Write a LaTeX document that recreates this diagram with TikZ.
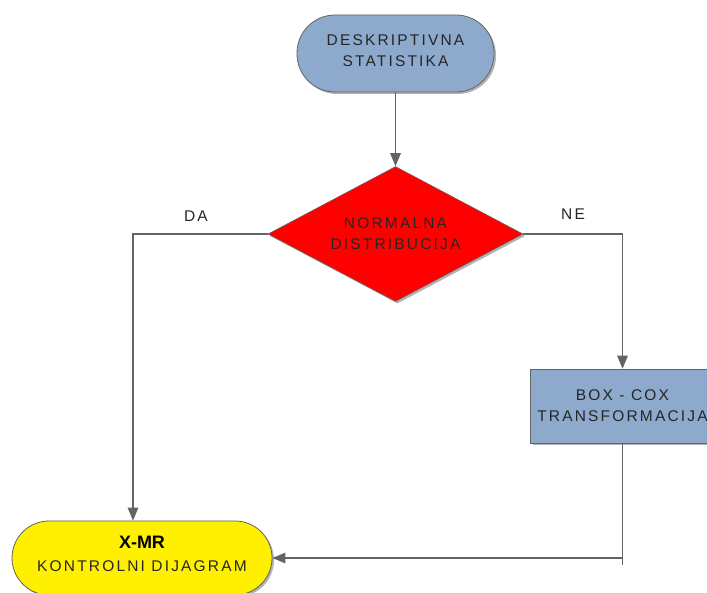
\documentclass[tikz,border=0pt]{standalone}
\usepackage{fontspec}
\setmainfont{Liberation Sans}
\newfontfamily\lsfont[LetterSpace=14]{Liberation Sans}
\newfontfamily\plainfont{Liberation Sans}
\usetikzlibrary{shapes.geometric,arrows.meta,shadows}
\definecolor{nodeblue}{RGB}{141,169,204}
\definecolor{nodeyellow}{RGB}{255,240,0}
\definecolor{nodered}{RGB}{255,0,0}
\definecolor{linegray}{RGB}{100,100,100}
\definecolor{txtgray}{RGB}{38,38,38}
\begin{document}
\begin{tikzpicture}[x=1pt,y=1pt,
  lbl/.style={font=\lsfont\fontsize{15.5}{21}\selectfont, text=txtgray, align=center},
  shad/.style={drop shadow={shadow xshift=2pt,shadow yshift=-2pt,opacity=0.3,fill=black}},
  stadium/.style={lbl, shad, rectangle, draw=linegray, line width=0.8pt, inner sep=0pt},
  boxnode/.style={lbl, shad, rectangle, draw=linegray, line width=0.6pt, inner sep=0pt,
    fill=nodeblue, minimum width=184pt, minimum height=74pt},
  decision/.style={lbl, shad, diamond, aspect=2, draw=linegray, line width=0.5pt, inner sep=0pt,
    fill=nodered, minimum width=255pt, minimum height=135pt},
  wire/.style={draw=linegray, line width=1.3pt},
  conn/.style={wire, -{Triangle[length=13pt,width=10.5pt]}}]
\clip (0,0) rectangle (707,592);
\fill[white] (0,0) rectangle (707,592);

\node[stadium, fill=nodeblue, rounded corners=38pt, minimum width=197pt, minimum height=77pt,
  text depth=5pt] (top) at (395.5,538.5) {DESKRIPTIVNA\\STATISTIKA};
\node[decision] (dia) at (395.5,358) {NORMALNA\\DISTRIBUCIJA};
\node[boxnode] (box) at (622.5,186) {BOX - COX\\TRANSFORMACIJA};
\node[stadium, fill=nodeyellow, rounded corners=37pt, minimum width=260pt, minimum height=74pt,
  text depth=8pt] (yel) at (142,34)
  {{\plainfont\bfseries\fontsize{18}{22}\selectfont\color{black}X-MR}\\[2pt]KONTROLNI DIJAGRAM};

\node[lbl] (da) at (196,376) {DA};
\node[lbl] (ne) at (573,378) {NE};

\draw[conn] (top) -- (dia);
\draw[conn] (dia.west) -| ([xshift=-9pt]yel.north);
\draw[conn] (dia.east) -| (box.north);
\draw[wire] (box.south) -- ([yshift=-7pt]box.south |- yel.east);
\draw[conn] (box.south |- yel.east) -- (yel.east);
\end{tikzpicture}
\end{document}
